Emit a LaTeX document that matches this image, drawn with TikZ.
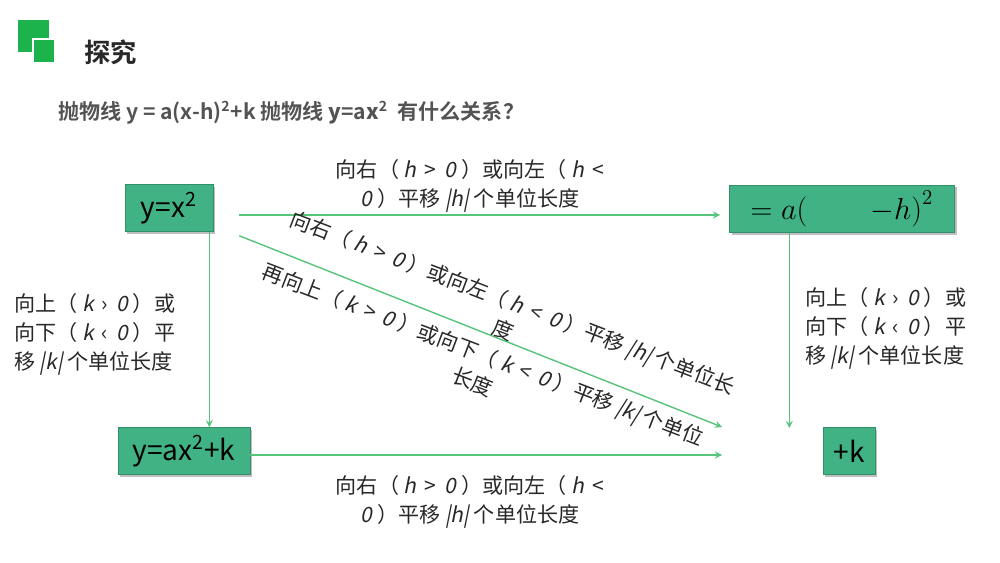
\documentclass[tikz,border=0pt]{standalone}
\usepackage{fontspec}
\setmainfont{Noto Sans CJK SC}[ItalicFont={Noto Sans CJK SC},ItalicFeatures={FakeSlant=0.2},BoldFont={Noto Sans CJK SC Bold}]
\usetikzlibrary{calc}
\definecolor{boxgreen}{RGB}{64,178,132}
\definecolor{linegreen}{RGB}{86,196,122}
\definecolor{logogreen}{RGB}{28,178,76}
\definecolor{txtgray}{RGB}{40,40,40}
\tikzstyle{mbox}=[fill=boxgreen, draw=boxgreen!80!black, line width=0.3pt, minimum height=0.94cm, inner sep=2pt, font=\fontsize{16}{18}\selectfont]
\tikzstyle{move}=[->, >=stealth, draw=linegreen, line width=0.8pt]
\tikzstyle{lbl}=[font=\fontsize{12}{16.5}\selectfont, text=txtgray, inner sep=1pt]

\begin{document}
\begin{tikzpicture}[x=0.02cm,y=-0.02cm]
        \useasboundingbox (0,0) rectangle (1000,563);
        % logo and heading
        \fill[logogreen] (18,20) rectangle (49,52);
        \fill[logogreen, draw=white, line width=1pt] (33,39) rectangle (55,63);
        \node[anchor=west, font=\fontsize{15}{18}\bfseries\selectfont, text=txtgray] (title) at (78,52) {探究};
        \node[anchor=west, font=\fontsize{12}{14}\bfseries\selectfont, text=txtgray!80] (quest) at (52,113)
            {抛物线 y = a(x-h)\textsuperscript{2}+k 抛物线 \textit{y}=a\textit{x}\textsuperscript{2}\ \ 有什么关系？};

        % boxes
        \fill[black!25] (127,187) rectangle (215,234);
        \node[mbox, minimum width=1.76cm] (a) at (169,208) {y=x\textsuperscript{2}};
        \fill[black!25] (732,187) rectangle (957,235);
        \node[mbox, minimum width=4.5cm, font=\fontsize{18}{20}\selectfont] (b) at (842,209) {$=a\Bigl(\qquad-h\Bigr)^{2}$};
        \fill[black!25] (120,430) rectangle (252,477);
        \node[mbox, minimum width=2.64cm] (c) at (184,451) {y=ax\textsuperscript{2}+k};
        \fill[black!25] (825,430) rectangle (877,477);
        \node[mbox, minimum width=1.04cm] (d) at (849,451) {+k};

        % connectors
        \coordinate (ab) at (720,215);
        \coordinate (bd) at (790,428);
        \coordinate (cd) at (722,455);
        \coordinate (ad) at (722,427);
        \draw[move] (a.east |- ab) ++(26,0) coordinate (a1) -- (ab);
        \draw[move] (a.south east) ++(-4,0) coordinate (a2) -- (a2 |- c.north);
        \draw[move] (b.south west) ++(60,0) coordinate (b1) -- (b1 |- bd);
        \draw[move] (c.east |- cd) -- (cd);
        \draw[move] ($(a.south east)+(26,4)$) coordinate (a3) -- (ad);

        % labels
        \node[lbl, align=center] (lab) at (470,186) {向右（\ \textit{h} \,>\, \textit{0} ）或向左（\ \textit{h} \,<\\ \textit{0} ）平移 \textit{|h|} 个单位长度};
        \node[lbl, align=left, anchor=west] (lac) at (12,334) {向上（\ \textit{k} \,›\, \textit{0} ）或\\向下（\ \textit{k} \,‹\, \textit{0} ）平\\移 \textit{|k|} 个单位长度};
        \node[lbl, align=left, anchor=west] (lbd) at (803,328) {向上（\ \textit{k} \,›\, \textit{0} ）或\\向下（\ \textit{k} \,‹\, \textit{0} ）平\\移 \textit{|k|} 个单位长度};
        \node[lbl, align=center] (lcd) at (470,502) {向右（\ \textit{h} \,>\, \textit{0} ）或向左（\ \textit{h} \,<\\ \textit{0} ）平移 \textit{|h|} 个单位长度};
        \node[lbl, align=center, rotate=-21] (lad1) at (508,316) {向右（\ \textit{h} \,>\, \textit{0} ）或向左（\ \textit{h} \,<\, \textit{0} ）平移 \textit{|h|} 个单位长\\度};
        \node[lbl, align=center, rotate=-21] (lad2) at (478,368) {再向上（\ \textit{k} \,>\, \textit{0} ）或向下（\ \textit{k} \,<\, \textit{0} ）平移 \textit{|k|} 个单位\\长度};
\end{tikzpicture}
\end{document}
